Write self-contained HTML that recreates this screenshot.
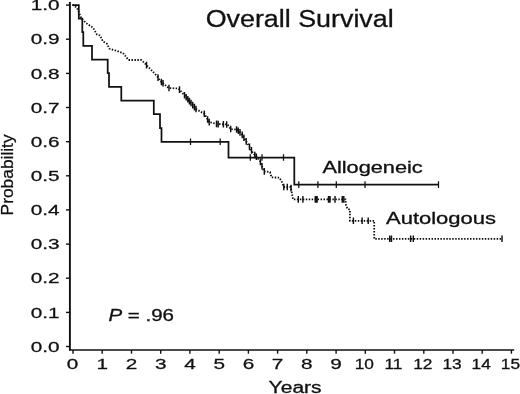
<!DOCTYPE html>
<html><head><meta charset="utf-8"><title>Overall Survival</title>
<style>html,body{margin:0;padding:0;background:#fff}svg{display:block}text{font-family:"Liberation Sans",sans-serif;fill:#111}</style></head><body>
<svg width="520" height="394" viewBox="0 0 520 394">
<rect width="520" height="394" fill="#fff"/>
<path d="M69.9,1.9 V350.4" fill="none" stroke="#111" stroke-width="1.9"/><path d="M69,350 H514.2" fill="none" stroke="#111" stroke-width="1.5"/>
<line x1="66" x2="70" y1="346.5" y2="346.5" stroke="#111" stroke-width="1.4"/>
<line x1="66" x2="70" y1="312.4" y2="312.4" stroke="#111" stroke-width="1.4"/>
<line x1="66" x2="70" y1="278.2" y2="278.2" stroke="#111" stroke-width="1.4"/>
<line x1="66" x2="70" y1="244.1" y2="244.1" stroke="#111" stroke-width="1.4"/>
<line x1="66" x2="70" y1="209.9" y2="209.9" stroke="#111" stroke-width="1.4"/>
<line x1="66" x2="70" y1="175.8" y2="175.8" stroke="#111" stroke-width="1.4"/>
<line x1="66" x2="70" y1="141.7" y2="141.7" stroke="#111" stroke-width="1.4"/>
<line x1="66" x2="70" y1="107.5" y2="107.5" stroke="#111" stroke-width="1.4"/>
<line x1="66" x2="70" y1="73.4" y2="73.4" stroke="#111" stroke-width="1.4"/>
<line x1="66" x2="70" y1="39.2" y2="39.2" stroke="#111" stroke-width="1.4"/>
<line x1="66" x2="70" y1="5.1" y2="5.1" stroke="#111" stroke-width="1.4"/>
<line x1="73.0" x2="73.0" y1="350" y2="353.7" stroke="#111" stroke-width="1.4"/>
<line x1="102.2" x2="102.2" y1="350" y2="353.7" stroke="#111" stroke-width="1.4"/>
<line x1="131.5" x2="131.5" y1="350" y2="353.7" stroke="#111" stroke-width="1.4"/>
<line x1="160.7" x2="160.7" y1="350" y2="353.7" stroke="#111" stroke-width="1.4"/>
<line x1="189.9" x2="189.9" y1="350" y2="353.7" stroke="#111" stroke-width="1.4"/>
<line x1="219.2" x2="219.2" y1="350" y2="353.7" stroke="#111" stroke-width="1.4"/>
<line x1="248.4" x2="248.4" y1="350" y2="353.7" stroke="#111" stroke-width="1.4"/>
<line x1="277.6" x2="277.6" y1="350" y2="353.7" stroke="#111" stroke-width="1.4"/>
<line x1="306.8" x2="306.8" y1="350" y2="353.7" stroke="#111" stroke-width="1.4"/>
<line x1="336.1" x2="336.1" y1="350" y2="353.7" stroke="#111" stroke-width="1.4"/>
<line x1="365.3" x2="365.3" y1="350" y2="353.7" stroke="#111" stroke-width="1.4"/>
<line x1="394.5" x2="394.5" y1="350" y2="353.7" stroke="#111" stroke-width="1.4"/>
<line x1="423.8" x2="423.8" y1="350" y2="353.7" stroke="#111" stroke-width="1.4"/>
<line x1="453.0" x2="453.0" y1="350" y2="353.7" stroke="#111" stroke-width="1.4"/>
<line x1="482.2" x2="482.2" y1="350" y2="353.7" stroke="#111" stroke-width="1.4"/>
<line x1="511.4" x2="511.4" y1="350" y2="353.7" stroke="#111" stroke-width="1.4"/>
<text transform="translate(59.5,351.6) scale(1.44,1)" text-anchor="end" font-size="14.4" stroke="#111" stroke-width="0.32" vector-effect="non-scaling-stroke">0.0</text>
<text transform="translate(59.5,317.5) scale(1.44,1)" text-anchor="end" font-size="14.4" stroke="#111" stroke-width="0.32" vector-effect="non-scaling-stroke">0.1</text>
<text transform="translate(59.5,283.3) scale(1.44,1)" text-anchor="end" font-size="14.4" stroke="#111" stroke-width="0.32" vector-effect="non-scaling-stroke">0.2</text>
<text transform="translate(59.5,249.2) scale(1.44,1)" text-anchor="end" font-size="14.4" stroke="#111" stroke-width="0.32" vector-effect="non-scaling-stroke">0.3</text>
<text transform="translate(59.5,215.0) scale(1.44,1)" text-anchor="end" font-size="14.4" stroke="#111" stroke-width="0.32" vector-effect="non-scaling-stroke">0.4</text>
<text transform="translate(59.5,180.9) scale(1.44,1)" text-anchor="end" font-size="14.4" stroke="#111" stroke-width="0.32" vector-effect="non-scaling-stroke">0.5</text>
<text transform="translate(59.5,146.8) scale(1.44,1)" text-anchor="end" font-size="14.4" stroke="#111" stroke-width="0.32" vector-effect="non-scaling-stroke">0.6</text>
<text transform="translate(59.5,112.6) scale(1.44,1)" text-anchor="end" font-size="14.4" stroke="#111" stroke-width="0.32" vector-effect="non-scaling-stroke">0.7</text>
<text transform="translate(59.5,78.5) scale(1.44,1)" text-anchor="end" font-size="14.4" stroke="#111" stroke-width="0.32" vector-effect="non-scaling-stroke">0.8</text>
<text transform="translate(59.5,44.3) scale(1.44,1)" text-anchor="end" font-size="14.4" stroke="#111" stroke-width="0.32" vector-effect="non-scaling-stroke">0.9</text>
<text transform="translate(59.5,10.2) scale(1.44,1)" text-anchor="end" font-size="14.4" stroke="#111" stroke-width="0.32" vector-effect="non-scaling-stroke">1.0</text>
<text transform="translate(72.5,369.4) scale(1.44,1)" text-anchor="middle" font-size="14.4" stroke="#111" stroke-width="0.32" vector-effect="non-scaling-stroke">0</text>
<text transform="translate(102.2,369.4) scale(1.44,1)" text-anchor="middle" font-size="14.4" stroke="#111" stroke-width="0.32" vector-effect="non-scaling-stroke">1</text>
<text transform="translate(131.5,369.4) scale(1.44,1)" text-anchor="middle" font-size="14.4" stroke="#111" stroke-width="0.32" vector-effect="non-scaling-stroke">2</text>
<text transform="translate(160.7,369.4) scale(1.44,1)" text-anchor="middle" font-size="14.4" stroke="#111" stroke-width="0.32" vector-effect="non-scaling-stroke">3</text>
<text transform="translate(189.9,369.4) scale(1.44,1)" text-anchor="middle" font-size="14.4" stroke="#111" stroke-width="0.32" vector-effect="non-scaling-stroke">4</text>
<text transform="translate(219.2,369.4) scale(1.44,1)" text-anchor="middle" font-size="14.4" stroke="#111" stroke-width="0.32" vector-effect="non-scaling-stroke">5</text>
<text transform="translate(248.4,369.4) scale(1.44,1)" text-anchor="middle" font-size="14.4" stroke="#111" stroke-width="0.32" vector-effect="non-scaling-stroke">6</text>
<text transform="translate(277.6,369.4) scale(1.44,1)" text-anchor="middle" font-size="14.4" stroke="#111" stroke-width="0.32" vector-effect="non-scaling-stroke">7</text>
<text transform="translate(306.8,369.4) scale(1.44,1)" text-anchor="middle" font-size="14.4" stroke="#111" stroke-width="0.32" vector-effect="non-scaling-stroke">8</text>
<text transform="translate(336.1,369.4) scale(1.44,1)" text-anchor="middle" font-size="14.4" stroke="#111" stroke-width="0.32" vector-effect="non-scaling-stroke">9</text>
<text transform="translate(364.3,369.4) scale(1.2,1)" text-anchor="middle" font-size="14.4" stroke="#111" stroke-width="0.32" vector-effect="non-scaling-stroke">10</text>
<text transform="translate(393.5,369.4) scale(1.2,1)" text-anchor="middle" font-size="14.4" stroke="#111" stroke-width="0.32" vector-effect="non-scaling-stroke">11</text>
<text transform="translate(422.8,369.4) scale(1.2,1)" text-anchor="middle" font-size="14.4" stroke="#111" stroke-width="0.32" vector-effect="non-scaling-stroke">12</text>
<text transform="translate(452.0,369.4) scale(1.2,1)" text-anchor="middle" font-size="14.4" stroke="#111" stroke-width="0.32" vector-effect="non-scaling-stroke">13</text>
<text transform="translate(481.2,369.4) scale(1.2,1)" text-anchor="middle" font-size="14.4" stroke="#111" stroke-width="0.32" vector-effect="non-scaling-stroke">14</text>
<text transform="translate(510.4,369.4) scale(1.2,1)" text-anchor="middle" font-size="14.4" stroke="#111" stroke-width="0.32" vector-effect="non-scaling-stroke">15</text>
<text x="205.7" y="26.6" font-size="23.5" textLength="188" stroke="#111" stroke-width="0.3" lengthAdjust="spacingAndGlyphs">Overall Survival</text>
<text x="322.4" y="172.9" font-size="15.6" textLength="100.3" stroke="#111" stroke-width="0.3" lengthAdjust="spacingAndGlyphs">Allogeneic</text>
<text x="386" y="223.8" font-size="15.6" textLength="110" stroke="#111" stroke-width="0.3" lengthAdjust="spacingAndGlyphs">Autologous</text>
<text x="268.6" y="392.8" font-size="16" textLength="53" stroke="#111" stroke-width="0.3" lengthAdjust="spacingAndGlyphs">Years</text>
<text x="108.5" y="321" font-size="16" textLength="65.5" stroke="#111" stroke-width="0.3" lengthAdjust="spacingAndGlyphs"><tspan font-style="italic">P</tspan> = .96</text>
<text transform="translate(12.8,215.4) rotate(-90)" font-size="15.8" textLength="81" stroke="#111" stroke-width="0.25" lengthAdjust="spacingAndGlyphs">Probability</text>
<polyline points="72.5,4.8 74,5.5 77,8 81.5,18.5 86,23 93,27.7 97,34.6 100,35.4 103,41.5 107,43.8 109.2,48.5 123,53 128.5,60 141.5,60 146,64.6 157,76 160,80.8 167.7,87.2 168.5,88 178.5,88.5 184.6,95.4 196,109 204.6,114 209,122 217,124 227.7,124.5 230.8,129.2 237,129.5 241.5,133.8 247.7,143.8 253,153 260,160.8 263.8,171.3 270,172 271.5,177.4 279.2,177.6 281.5,181 283.8,187 290.8,187 293,199.4 345.4,199.4 346,205.2 347.6,209 349.9,209.6 349.9,220.8 374.2,220.8 374.2,238.8 502,238.8" fill="none" stroke="#111" stroke-width="1.8" stroke-dasharray="1.5 1.46"/>
<path d="M146.5,61.8v6.6M158,74.3v6.6M161.4,78.7v6.6M163,80.0v6.6M169,84.7v6.6M179.5,86.3v6.6M184.5,92.0v6.6M186.2,94.0v6.6M187.8,95.9v6.6M189.4,97.8v6.6M191,99.7v6.6M192.7,101.8v6.6M194.4,103.8v6.6M196,105.7v6.6M204.3,110.5v6.6M207.6,116.2v6.6M209.2,118.8v6.6M216.5,120.6v6.6M218.2,120.8v6.6M223.4,121.0v6.6M226.7,121.2v6.6M230.7,125.7v6.6M236.6,126.2v6.6M238.3,127.4v6.6M240,129.1v6.6M242.2,131.6v6.6M243.9,134.4v6.6M246.2,138.1v6.6M249.5,143.6v6.6M251.5,147.1v6.6M254.8,151.7v6.6M256.4,153.5v6.6M260.4,158.6v6.6M262,163.0v6.6M264.3,168.1v6.6M283.8,183.7v6.6M287.3,183.7v6.6M291,184.8v6.6M298.3,196.1v6.6M302.9,196.1v6.6M315.3,196.1v6.6M316.2,196.1v6.6M317.1,196.1v6.6M328.5,196.1v6.6M330,196.1v6.6M335,196.1v6.6M342.3,196.1v6.6M343.8,196.1v6.6M353.4,217.5v6.6M362.1,217.5v6.6M368.2,217.5v6.6M389.7,235.5v6.6M391.5,235.5v6.6M410.6,235.5v6.6M413.3,235.5v6.6M502,235.5v6.6" stroke="#111" stroke-width="1.45" fill="none"/>
<path d="M72.3,5.1 H78.8 V18.7 H82.3 V32 H83.3 V45.8 H92 V59.5 H107.7 V73.1 H109 V86.8 H121.3 V100.5 H153.8 V114.1 H160 V128.2 H161.5 V141.8 H228.5 V157.5 H294.3 V184.6 H438.5" fill="none" stroke="#111" stroke-width="1.75" stroke-linejoin="miter"/>
<path d="M190.5,138.5v6.6M220.2,138.5v6.6M250.3,154.2v6.6M262,154.2v6.6M283.5,154.2v6.6M298.8,181.3v6.6M317.9,181.3v6.6M336.3,181.3v6.6M365,181.3v6.6M438.5,181.3v6.6" stroke="#111" stroke-width="1.25" fill="none"/>
</svg></body></html>
